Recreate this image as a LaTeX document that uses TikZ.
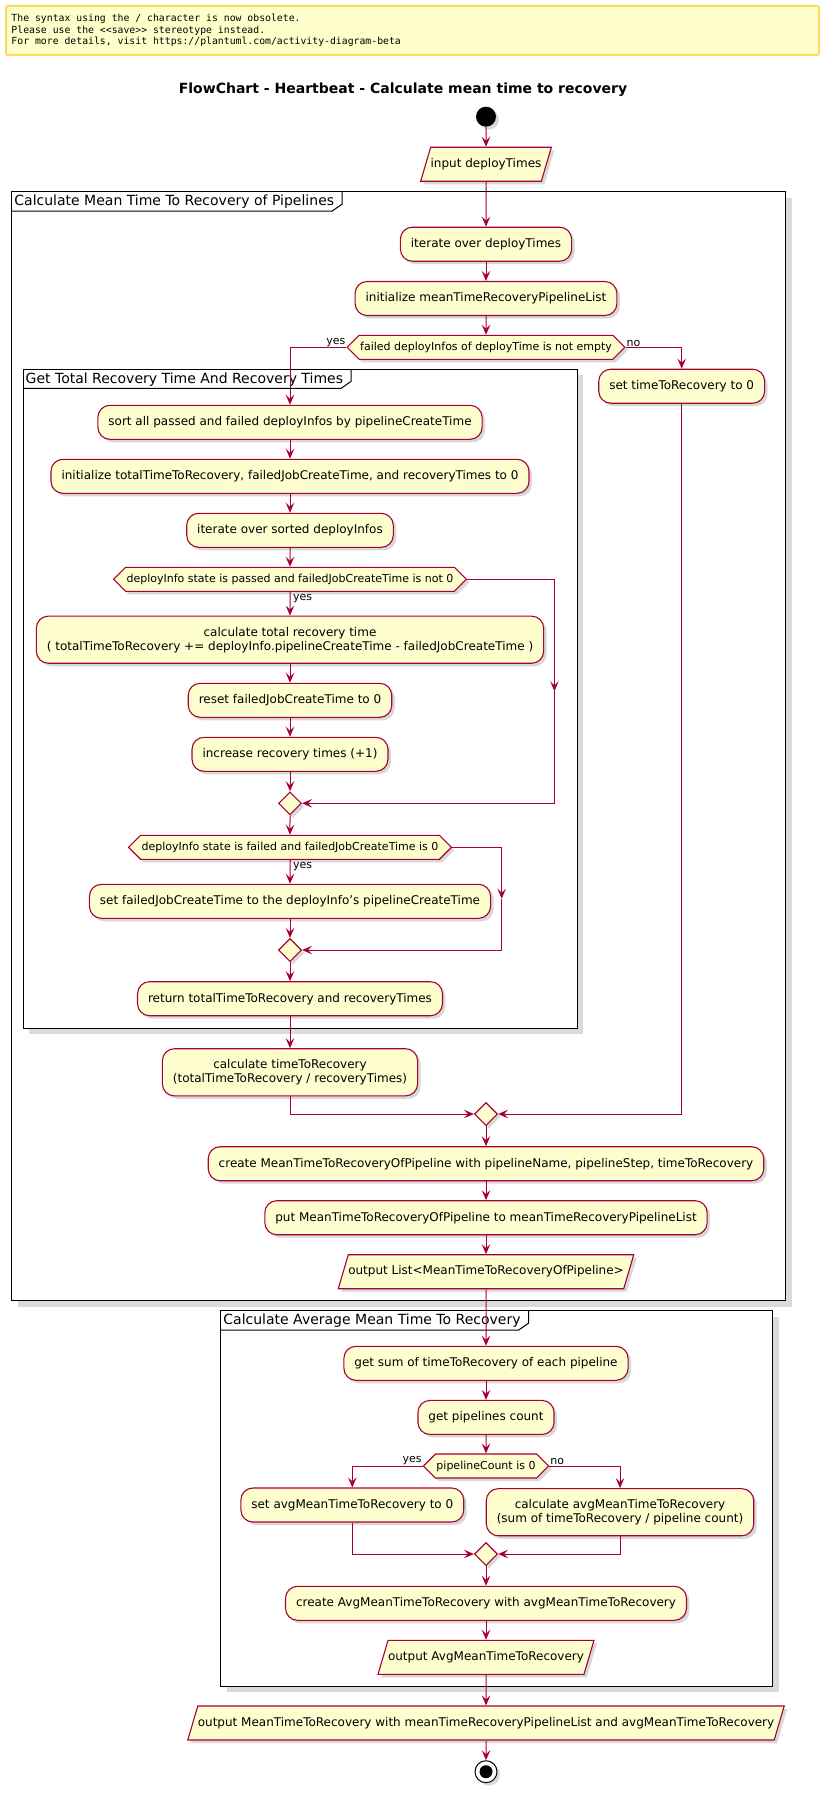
\documentclass[tikz,border=0pt]{standalone}
\usepackage{fontspec}
\setmainfont{DejaVu Sans}
\setmonofont{DejaVu Sans Mono}
\usetikzlibrary{shapes.geometric,shapes.symbols,arrows.meta,shadows}

\definecolor{umlred}{HTML}{A80036}
\definecolor{umlfill}{HTML}{FEFECE}
\definecolor{notefill}{HTML}{FFFFCC}
\definecolor{noteline}{HTML}{FFD966}
\definecolor{frameshade}{HTML}{DADADA}

\tikzset{
  actshadow/.style={drop shadow={opacity=0.3, shadow xshift=3pt, shadow yshift=-3pt}},
  act/.style={draw=umlred, fill=umlfill, line width=1.1pt, rounded corners=12pt,
    minimum height=34pt, inner xsep=10.5pt, inner ysep=10.75pt, align=center,
    font=\fontsize{12}{14}\selectfont, actshadow},
  inout/.style={trapezium, trapezium left angle=73.6, trapezium right angle=106.4,
    draw=umlred, fill=umlfill, line width=1.1pt, text height=9pt, text depth=3pt,
    inner xsep=0pt, inner ysep=11pt, font=\fontsize{12}{14}\selectfont, actshadow},
  choice/.style={signal, signal to=west and east, signal pointer angle=90,
    draw=umlred, fill=umlfill, line width=1.1pt, minimum height=24pt,
    inner xsep=1pt, inner ysep=0pt, font=\fontsize{11}{13}\selectfont, actshadow},
  merge/.style={diamond, draw=umlred, fill=umlfill, line width=1.1pt,
    minimum width=23pt, minimum height=23pt, inner sep=0pt, actshadow},
  startdot/.style={circle, fill=black, minimum size=20pt, inner sep=0pt, actshadow},
  stopdot/.style={circle, draw=black, fill=white, line width=1pt, minimum size=22pt,
    inner sep=0pt, actshadow},
  flow/.style={draw=umlred, line width=1pt, -{Stealth[length=10pt,width=8.5pt,inset=4pt]}},
  lbl/.style={font=\fontsize{11}{13}\selectfont, inner sep=0.5pt},
  frameline/.style={draw=black, line width=1pt, fill=white},
  tabline/.style={draw=black, line width=1pt},
  tabtext/.style={anchor=north west, font=\fontsize{14}{16}\selectfont, inner xsep=2.5pt,
    inner ysep=2.5pt, text height=11.5pt, text depth=2.5pt},
  warnbox/.style={draw=noteline, fill=notefill, line width=2pt, rounded corners=2pt,
    minimum width=813pt, minimum height=49pt, text width=802pt, align=left,
    font=\ttfamily\fontsize{9.8}{11.7}\selectfont},
  titletext/.style={font=\bfseries\fontsize{14}{16}\selectfont}
}

\begin{document}
\begin{tikzpicture}[x=1pt, y=-1pt]
    \useasboundingbox (0,0) rectangle (823,1798);

    % Warning note and title
    \node[warnbox, anchor=north west] (warn) at (5,5) {\spaceskip=0.602em\relax The syntax using the / character is now obsolete.\\Please use the <<save>> stereotype instead.\\For more details, visit https://plantuml.com/activity-diagram-beta};
    \node[titletext, anchor=base] (title) at (403,93.3) {FlowChart - Heartbeat - Calculate mean time to recovery};

    % Frame: pipelines
    \fill[frameshade] (17.7,197.7) rectangle (791.7,1306.7);
    \draw[frameline] (11.7,191.7) rectangle (785.7,1300.7);
    \node[tabtext] (tab1) at (11.7,191.7) {Calculate Mean Time To Recovery of Pipelines};
    \draw[tabline] (tab1.south west) -- ([xshift=-4.7pt]tab1.south east) -- ([xshift=5.3pt,yshift=7pt]tab1.south east) -- ([xshift=5.3pt]tab1.north east);

    % Frame: recovery times
    \fill[frameshade] (29,375) rectangle (583,1034.3);
    \draw[frameline] (23,369) rectangle (577,1028.3);
    \node[tabtext] (tab2) at (23,369) {Get Total Recovery Time And Recovery Times};
    \draw[tabline] (tab2.south west) -- ([xshift=-4.7pt]tab2.south east) -- ([xshift=5.3pt,yshift=7pt]tab2.south east) -- ([xshift=5.3pt]tab2.north east);

    % Frame: average
    \fill[frameshade] (226.7,1316.7) rectangle (778.7,1692);
    \draw[frameline] (220.7,1310.7) rectangle (772.7,1686);
    \node[tabtext] (tab3) at (220.7,1310.7) {Calculate Average Mean Time To Recovery};
    \draw[tabline] (tab3.south west) -- ([xshift=-4.7pt]tab3.south east) -- ([xshift=5.3pt,yshift=7pt]tab3.south east) -- ([xshift=5.3pt]tab3.north east);

    % Activities
    \node[startdot] (start) at (486,116.7) {};
    \node[inout] (input) at (486,164.3) {input deployTimes};
    \node[act] (iter) at (486,244.2) {iterate over deployTimes};
    \node[act] (initlist) at (486,298.5) {initialize meanTimeRecoveryPipelineList};
    \node[choice] (d1) at (486,347.3) {failed deployInfos of deployTime is not empty};
    \node[act] (setzero) at (681.7,386.2) {set timeToRecovery to 0};

    \node[act] (sort) at (290,422.3) {sort all passed and failed deployInfos by pipelineCreateTime};
    \node[act] (inittot) at (290,476.3) {initialize totalTimeToRecovery, failedJobCreateTime, and recoveryTimes to 0};
    \node[act] (itsort) at (290,530.3) {iterate over sorted deployInfos};
    \node[choice] (d2) at (290,579.3) {deployInfo state is passed and failedJobCreateTime is not 0};
    \node[act] (calcrec) at (290,639.7) {calculate total recovery time\\( totalTimeToRecovery += deployInfo.pipelineCreateTime - failedJobCreateTime )};
    \node[act] (reset) at (290,700.3) {reset failedJobCreateTime to 0};
    \node[act] (incr) at (290,754.3) {increase recovery times (+1)};
    \node[merge] (m1) at (290,803.3) {};
    \node[choice] (d3) at (290,847.3) {deployInfo state is failed and failedJobCreateTime is 0};
    \node[act] (setfail) at (290,901.3) {set failedJobCreateTime to the deployInfo’s pipelineCreateTime};
    \node[merge] (m2) at (290,950) {};
    \node[act] (ret) at (290,998.7) {return totalTimeToRecovery and recoveryTimes};
    \node[act] (calcttr) at (290,1072.3) {calculate timeToRecovery\\(totalTimeToRecovery / recoveryTimes)};

    \node[merge] (m3) at (486,1114) {};
    \node[act] (create) at (486,1163.7) {create MeanTimeToRecoveryOfPipeline with pipelineName, pipelineStep, timeToRecovery};
    \node[act] (put) at (486,1217.7) {put MeanTimeToRecoveryOfPipeline to meanTimeRecoveryPipelineList};
    \node[inout] (outlist) at (486,1271.7) {output List<MeanTimeToRecoveryOfPipeline>};

    \node[act] (getsum) at (486,1363.3) {get sum of timeToRecovery of each pipeline};
    \node[act] (getcount) at (486,1417.4) {get pipelines count};
    \node[choice] (d4) at (486,1466) {pipelineCount is 0};
    \node[act] (setavg) at (352.3,1505) {set avgMeanTimeToRecovery to 0};
    \node[act] (calcavg) at (620,1512.2) {calculate avgMeanTimeToRecovery\\(sum of timeToRecovery / pipeline count)};
    \node[merge] (m4) at (486,1554) {};
    \node[act] (createavg) at (486,1603.3) {create AvgMeanTimeToRecovery with avgMeanTimeToRecovery};
    \node[inout] (outavg) at (486,1657.3) {output AvgMeanTimeToRecovery};
    \node[inout] (final) at (486,1723) {output MeanTimeToRecovery with meanTimeRecoveryPipelineList and avgMeanTimeToRecovery};
    \node[stopdot] (stop) at (486,1771.7) {};
    \fill (stop) circle (6.5pt);

    % Flow
    \draw[flow] (start) -- (input);
    \draw[flow] (input) -- (iter);
    \draw[flow] (iter) -- (initlist);
    \draw[flow] (initlist) -- (d1);
    \draw[flow] (d1.west) -| node[lbl, pos=0, anchor=south east] {yes} (sort.north);
    \draw[flow] (d1.east) -| node[lbl, pos=0, anchor=south west] {no} (setzero.north);
    \draw[flow] (sort) -- (inittot);
    \draw[flow] (inittot) -- (itsort);
    \draw[flow] (itsort) -- (d2);
    \draw[flow] (d2) -- node[lbl, pos=0.3, anchor=west, xshift=2pt] {yes} (calcrec);
    \draw[flow] (calcrec) -- (reset);
    \draw[flow] (reset) -- (incr);
    \draw[flow] (incr) -- (m1);
    \coordinate (skip2) at (554.4,691.3);
    \draw[flow] (d2.east) -| (skip2);
    \draw[flow] (skip2) |- (m1.east);
    \draw[flow] (m1) -- (d3);
    \draw[flow] (d3) -- node[lbl, pos=0.3, anchor=west, xshift=2pt] {yes} (setfail);
    \draw[flow] (setfail) -- (m2);
    \coordinate (skip3) at (501.7,898.7);
    \draw[flow] (d3.east) -| (skip3);
    \draw[flow] (skip3) |- (m2.east);
    \draw[flow] (m2) -- (ret);
    \draw[flow] (ret) -- (calcttr);
    \draw[flow] (calcttr.south) |- (m3.west);
    \draw[flow] (setzero.south) |- (m3.east);
    \draw[flow] (m3) -- (create);
    \draw[flow] (create) -- (put);
    \draw[flow] (put) -- (outlist);
    \draw[flow] (outlist) -- (getsum);
    \draw[flow] (getsum) -- (getcount);
    \draw[flow] (getcount) -- (d4);
    \draw[flow] (d4.west) -| node[lbl, pos=0, anchor=south east] {yes} (setavg.north);
    \draw[flow] (d4.east) -| node[lbl, pos=0, anchor=south west] {no} (calcavg.north);
    \draw[flow] (setavg.south) |- (m4.west);
    \draw[flow] (calcavg.south) |- (m4.east);
    \draw[flow] (m4) -- (createavg);
    \draw[flow] (createavg) -- (outavg);
    \draw[flow] (outavg) -- (final);
    \draw[flow] (final) -- (stop);
  \end{tikzpicture}
\end{document}
